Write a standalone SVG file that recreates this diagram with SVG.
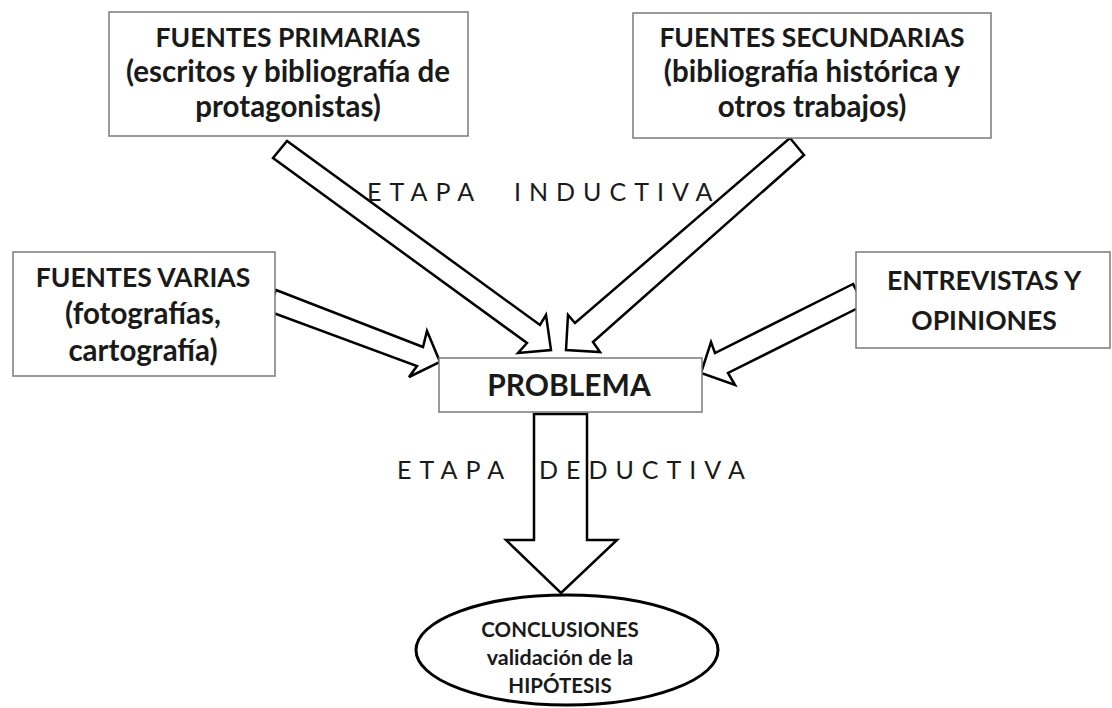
<svg xmlns="http://www.w3.org/2000/svg" width="1112" height="708" viewBox="0 0 1112 708">
<style>
.box{fill:#fff;stroke:#7a7a7a;stroke-width:1.5}
.t{font-family:Lato,"Liberation Sans",sans-serif;font-weight:bold;font-size:26.5px;fill:#1a1a1a;text-anchor:middle}
.l{font-size:29.5px}
.p{font-size:30px}
.c{font-size:20.5px}
.cl{font-size:21.5px}
.arr{fill:#fff;stroke:#000;stroke-width:2.5;stroke-linejoin:miter}
.et{font-family:Lato,"Liberation Sans",sans-serif;font-size:25px;fill:#1a1a1a;letter-spacing:8px}
</style>
<rect width="1112" height="708" fill="#fff"/>
<g id="connectors">
<polygon class="arr" points="273,158 287,141 540,325 546,315 551,350 518,353 527,343"/>
<polygon class="arr" points="790,138 575,323 568,315 566,350 600,352 593,342 804,155"/>
<polygon class="arr" points="276,290 423,347 427,331 440,362 409,377 417,366 268,311"/>
<polygon class="arr" points="853,284 715,353 711,342 701,373 735,385 728,373 864,305"/>
<polygon class="arr" stroke-width="3" points="534,414 587,414 587,540 617,540 561,593 506,540 534,540"/>
</g>
<g id="fuentes-primarias">
<rect class="box" x="109" y="12" width="359" height="124"/>
<text class="t" x="288" y="47">FUENTES PRIMARIAS</text>
<text class="t l" x="288" y="82">(escritos y bibliografía de</text>
<text class="t l" x="288" y="117">protagonistas)</text>
</g>
<g id="fuentes-secundarias">
<rect class="box" x="633" y="13" width="358" height="125"/>
<text class="t" x="812" y="47">FUENTES SECUNDARIAS</text>
<text class="t l" x="812" y="82">(bibliografía histórica y</text>
<text class="t l" x="812" y="117">otros trabajos)</text>
</g>
<g id="fuentes-varias">
<rect class="box" x="13" y="252" width="262" height="124"/>
<text class="t" x="143" y="287">FUENTES VARIAS</text>
<text class="t l" x="143" y="324">(fotografías,</text>
<text class="t l" x="143" y="361">cartografía)</text>
</g>
<g id="entrevistas">
<rect class="box" x="856" y="252" width="254" height="96"/>
<text class="t" x="984" y="290">ENTREVISTAS Y</text>
<text class="t" x="984" y="330">OPINIONES</text>
</g>
<g id="problema">
<rect class="box" x="439" y="358" width="263" height="54"/>
<text class="t p" x="569" y="396">PROBLEMA</text>
</g>
<g id="etapa-inductiva">
<text class="et" x="367" y="201">ETAPA</text>
<text class="et" x="514" y="201">INDUCTIVA</text>
</g>
<g id="etapa-deductiva">
<text class="et" x="397" y="479">ETAPA</text>
<text class="et" x="539" y="479">DEDUCTIVA</text>
</g>
<g id="conclusiones">
<ellipse cx="567" cy="650" rx="151" ry="55" fill="#fff" stroke="#000" stroke-width="3"/>
<text class="t c" x="560" y="637">CONCLUSIONES</text>
<text class="t cl" x="560" y="665">validación de la</text>
<text class="t c" x="560" y="693">HIPÓTESIS</text>
</g>
</svg>
